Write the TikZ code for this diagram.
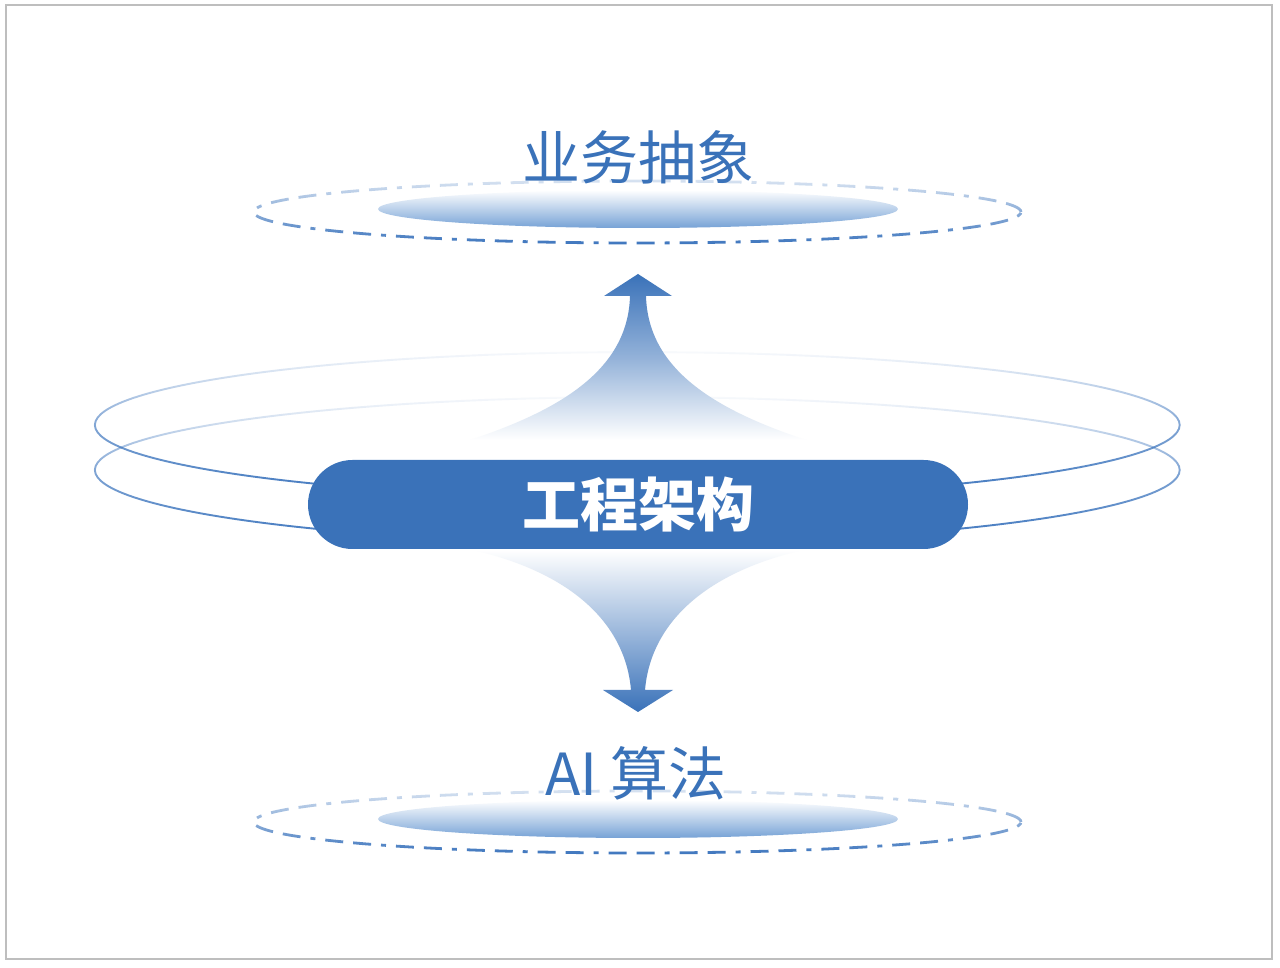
\documentclass[tikz,border=0pt]{standalone}
\usepackage{fontspec}
\newfontfamily\cjk{Noto Sans CJK SC}
\usetikzlibrary{fadings}
\definecolor{mainblue}{RGB}{58,114,185}
\definecolor{ringblue}{RGB}{62,118,190}
\definecolor{lightblue}{RGB}{118,162,214}
\definecolor{framegray}{RGB}{190,190,190}
\tikzfading[name=ringfade, top color=transparent!97, bottom color=transparent!0, middle color=transparent!35]
\tikzfading[name=dashfade, top color=transparent!80, bottom color=transparent!0]
\begin{document}
\begin{tikzpicture}[x=1pt,y=1pt,
  ring/.style={draw=ringblue, line width=1.9pt, path fading=ringfade},
  dashring/.style={draw=ringblue, line width=2.8pt, dash pattern=on 18pt off 10pt on 18pt off 10pt on 5pt off 10pt, path fading=dashfade},
  disc/.style={top color=white, bottom color=lightblue, draw=none},
  label/.style={font=\cjk\fontsize{58}{62}\selectfont, text=mainblue, inner sep=0pt},
  pill/.style={fill=mainblue, rounded corners=44.5pt, minimum width=660pt, minimum height=89pt, inner sep=0pt, text=white, font=\cjk\bfseries\fontsize{58}{62}\selectfont}
]
\useasboundingbox (0,0) rectangle (1280,967);
\fill[white] (0,0) rectangle (1280,967);
\draw[draw=framegray, line width=2pt] (6,961.5) rectangle (1272,8);

% rings
\draw[ring] (638.5,542) ellipse [x radius=543pt, y radius=73pt];
\draw[ring] (638.5,497) ellipse [x radius=543pt, y radius=73pt];

% up arrow
\shade[top color=mainblue, bottom color=white, middle color=mainblue!55]
  (604,671) -- (638,693) -- (672,671) -- (646,671)
  .. controls (648,597) and (716,557) .. (806,527)
  -- (470,527)
  .. controls (560,557) and (628,597) .. (630,671) -- cycle;

% down arrow
\shade[top color=white, bottom color=mainblue, middle color=mainblue!50]
  (603,277) -- (638,255) -- (673,277) -- (645,277)
  .. controls (650,337) and (696,392) .. (803,417)
  -- (473,417)
  .. controls (580,392) and (626,337) .. (631,277) -- cycle;

% core
\node[pill] (core) at (638,462.5) {工程架构};

% top level
\draw[dashring] (638,755) ellipse [x radius=384pt, y radius=31pt];
\shade[disc] (638,758) ellipse [x radius=260pt, y radius=19pt];
\node[label] (biz) at (638,810) {业务抽象};

% bottom level
\draw[dashring] (638,145) ellipse [x radius=384pt, y radius=31pt];
\shade[disc] (638,148) ellipse [x radius=260pt, y radius=19pt];
\node[label] (ai) at (636,194) {AI 算法};
\end{tikzpicture}
\end{document}
